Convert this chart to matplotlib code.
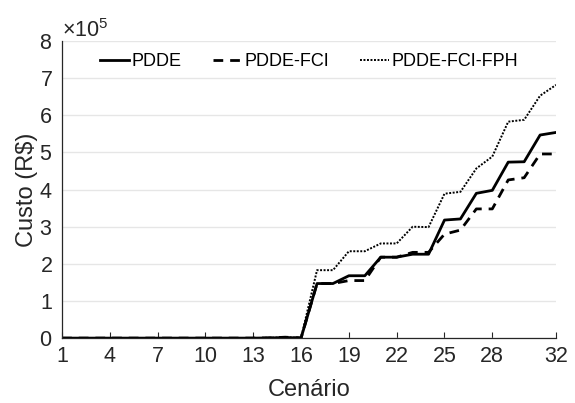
import numpy as np
import matplotlib.pyplot as plt
from matplotlib.ticker import ScalarFormatter

plt.rcParams['font.family'] = ['Liberation Sans', 'DejaVu Sans']
plt.rcParams['mathtext.fontset'] = 'custom'
plt.rcParams['mathtext.rm'] = 'Liberation Sans'
plt.rcParams['mathtext.it'] = 'Liberation Sans'

# cenarios 1..32, custo em R$
cenarios = list(range(1, 33))

pdde = [0, 0, 0, 0, 0, 0, 0, 0, 0, 0, 0, 0, 0, 500, 1500, 500,
        147000, 147000, 168000, 168000, 218000, 218000, 226000, 226000,
        318000, 321000, 390000, 398000, 474000, 475000, 547000, 554000]

pdde_fci = [0, 0, 0, 0, 0, 0, 0, 0, 0, 0, 0, 0, 0, 500, 2500, 500,
            147000, 147000, 155000, 155000, 218000, 218000, 231000, 231000,
            280000, 291000, 348000, 348000, 426000, 432000, 496000, 496000]

pdde_fci_fph = [0, 0, 0, 0, 0, 0, 0, 0, 0, 0, 0, 0, 0, 1000, 2000, 1000,
                183000, 183000, 234000, 234000, 255000, 255000, 300000, 299000,
                389000, 394000, 457000, 489000, 583000, 588000, 653000, 682000]

xticks = [1, 4, 7, 10, 13, 16, 19, 22, 25, 28, 32]
yticks = [0, 1e5, 2e5, 3e5, 4e5, 5e5, 6e5, 7e5, 8e5]

txt = '#262626'

fig = plt.figure(figsize=(5.75, 4.03), dpi=100)
ax = fig.add_axes([0.108, 0.161, 0.859, 0.737])

ax.plot(cenarios, pdde, color='black', lw=2.0, ls='-', label='PDDE')
ax.plot(cenarios, pdde_fci, color='black', lw=2.0, ls=(0, (3.5, 2.5)), label='PDDE-FCI')
ax.plot(cenarios, pdde_fci_fph, color='black', lw=1.4, ls=(0, (1, 0.8)), label='PDDE-FCI-FPH')

ax.set_xlim(1, 32)
ax.set_ylim(0, 8e5)
ax.set_xticks(xticks)
ax.set_yticks(yticks)

fmt = ScalarFormatter(useMathText=True)
fmt.set_powerlimits((0, 0))
ax.yaxis.set_major_formatter(fmt)
ax.yaxis.get_offset_text().set_fontsize(15.5)
ax.yaxis.get_offset_text().set_color(txt)

ax.grid(axis='y', color='#e6e6e6', lw=1.0)
ax.set_axisbelow(True)

for s in ['top', 'right']:
    ax.spines[s].set_visible(False)
for s in ['left', 'bottom']:
    ax.spines[s].set_color(txt)
    ax.spines[s].set_linewidth(0.9)

ax.tick_params(direction='in', labelsize=15.5, colors=txt, length=4)
ax.tick_params(axis='x', pad=6)
ax.tick_params(axis='y', length=0, pad=7)

ax.set_xlabel('Cenário', fontsize=17, color=txt, labelpad=8)
ax.set_ylabel('Custo (R$)', fontsize=17, color=txt, labelpad=1)

ax.legend(loc='center', bbox_to_anchor=(0.5, 0.93), ncol=3, frameon=False,
          fontsize=13, handlelength=1.6, handletextpad=0.15, columnspacing=1.7,
          labelcolor='black')

fig.savefig('out.png', dpi=100)
